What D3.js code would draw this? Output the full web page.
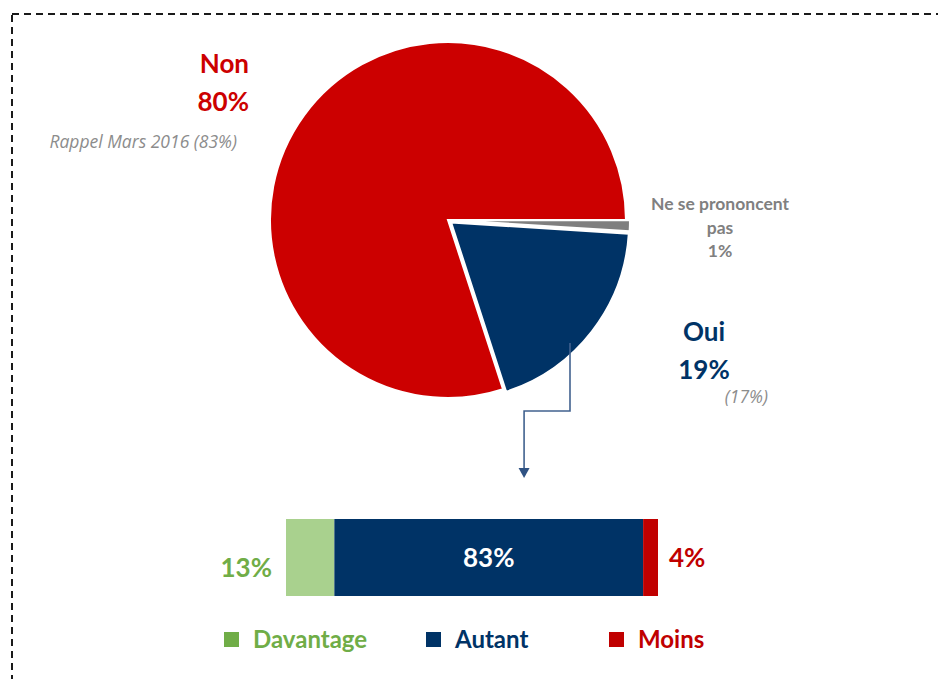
<!DOCTYPE html>
<html>
<head>
<meta charset="utf-8">
<script src="https://cdn.jsdelivr.net/npm/d3@7"></script>
<style>
  body { margin: 0; background: #fff; }
  svg { display: block; font-family: Lato, "Open Sans", sans-serif; }
</style>
</head>
<body>
<div id="chart"></div>
<script>
// pie: answer categories and their shares
const pieLabels = ["Ne se prononcent pas", "Oui", "Non"];
const pieValues = [1, 19, 80];
const pieColors = ["#7f7f7f", "#003366", "#cc0000"];
const pieRecall = [null, "(17%)", "Rappel Mars 2016 (83%)"];

// stacked bar for those who answered "Oui"
const barLabels = ["Davantage", "Autant", "Moins"];
const barValues = [13, 83, 4];
const barColors = ["#a9d18e", "#003366", "#c00000"];
const barTextColors = ["#70ad47", "#ffffff", "#c00000"];
const legendColors = ["#70ad47", "#003366", "#c00000"];

const width = 938, height = 679;

const svg = d3.select("#chart").append("svg")
    .attr("width", width)
    .attr("height", height);

// dashed frame, runs off the right and bottom edges
svg.append("rect")
    .attr("x", 12).attr("y", 14)
    .attr("width", 960).attr("height", 700)
    .attr("fill", "none")
    .attr("stroke", "#1a1a1a")
    .attr("stroke-width", 2)
    .attr("stroke-dasharray", "7,5");

// ---- pie ----
const cx = 448, cy = 220, radius = 178, explode = 4;

const pie = d3.pie()
    .sort(null)
    .startAngle(Math.PI / 2)
    .endAngle(Math.PI / 2 + 2 * Math.PI)
    .value(d => d);

const arcs = pie(pieValues);
const arc = d3.arc().innerRadius(0).outerRadius(radius);

const pieG = svg.append("g").attr("transform", `translate(${cx},${cy})`);

pieG.selectAll("path")
    .data(arcs)
    .enter().append("path")
    .attr("d", arc)
    .attr("fill", (d, i) => pieColors[i])
    .attr("stroke", "#fff")
    .attr("stroke-width", 2)
    .attr("transform", (d, i) => {
        if (i === 2) return null; // "Non" stays put
        let a = (d.startAngle + d.endAngle) / 2;
        return `translate(${Math.sin(a) * explode},${-Math.cos(a) * explode})`;
    });

// pie labels
const big = 26;
const recallFont = "'Open Sans', sans-serif";
// Non
svg.append("text").attr("x", 249).attr("y", 73)
    .attr("text-anchor", "end").attr("fill", pieColors[2])
    .attr("font-size", big).attr("font-weight", 700).text(pieLabels[2]);
svg.append("text").attr("x", 249).attr("y", 111)
    .attr("text-anchor", "end").attr("fill", pieColors[2])
    .attr("font-size", big).attr("font-weight", 700).text(pieValues[2] + "%");
svg.append("text").attr("x", 237).attr("y", 148)
    .attr("text-anchor", "end").attr("fill", "#8c8c8c")
    .attr("font-family", recallFont)
    .attr("font-size", 17.5).attr("font-style", "italic").text(pieRecall[2]);

// Ne se prononcent pas
const nspLines = ["Ne se prononcent", "pas", pieValues[0] + "%"];
svg.append("g").selectAll("text")
    .data(nspLines)
    .enter().append("text")
    .attr("x", 720)
    .attr("y", (d, i) => 210 + i * 23.5)
    .attr("text-anchor", "middle")
    .attr("fill", "#808080")
    .attr("font-size", 17.5)
    .attr("font-weight", 700)
    .text(d => d);

// Oui
svg.append("text").attr("x", 704).attr("y", 341)
    .attr("text-anchor", "middle").attr("fill", pieColors[1])
    .attr("font-size", big).attr("font-weight", 700).text(pieLabels[1]);
svg.append("text").attr("x", 704).attr("y", 379)
    .attr("text-anchor", "middle").attr("fill", pieColors[1])
    .attr("font-size", big).attr("font-weight", 700).text(pieValues[1] + "%");
svg.append("text").attr("x", 768).attr("y", 403)
    .attr("text-anchor", "end").attr("fill", "#8c8c8c")
    .attr("font-family", recallFont)
    .attr("font-size", 17.5).attr("font-style", "italic").text(pieRecall[1]);

// ---- stacked bar ----
const barTop = 519, barH = 77;
const x = d3.scaleLinear().domain([0, d3.sum(barValues)]).range([286, 658]);

let acc = 0;
const segs = barValues.map((v, i) => {
    let s = { label: barLabels[i], value: v, x0: acc, x1: acc + v, i };
    acc += v;
    return s;
});

svg.append("g").selectAll("rect")
    .data(segs)
    .enter().append("rect")
    .attr("x", d => x(d.x0))
    .attr("y", barTop)
    .attr("width", d => x(d.x1) - x(d.x0))
    .attr("height", barH)
    .attr("fill", d => barColors[d.i]);

// bar value labels: first outside left, middle inside, last outside right
svg.append("g").selectAll("text")
    .data(segs)
    .enter().append("text")
    .attr("x", d => d.i === 0 ? x(d.x0) - 14 : d.i === segs.length - 1 ? x(d.x1) + 11 : (x(d.x0) + x(d.x1)) / 2)
    .attr("y", d => d.i === 0 ? 577 : 567)
    .attr("text-anchor", d => d.i === 0 ? "end" : d.i === segs.length - 1 ? "start" : "middle")
    .attr("fill", d => barTextColors[d.i])
    .attr("font-size", big)
    .attr("font-weight", 700)
    .text(d => d.value + "%");

// connector arrow from "Oui" slice to the bar
const startX = cx + 122, startY = cy + 123;
const turnY = 411;
const endX = x(64);
const arrowTip = barTop - 41;
svg.append("path")
    .attr("d", `M${startX},${startY} V${turnY} H${endX} V${arrowTip - 9}`)
    .attr("fill", "none")
    .attr("stroke", "#41628f")
    .attr("stroke-width", 1.6);
svg.append("path")
    .attr("d", `M${endX - 5.5},${arrowTip - 10} L${endX + 5.5},${arrowTip - 10} L${endX},${arrowTip} Z`)
    .attr("fill", "#2f5283");

// ---- legend ----
const legendX = [224, 426, 609];
const legend = svg.append("g").selectAll("g")
    .data(barLabels)
    .enter().append("g")
    .attr("transform", (d, i) => `translate(${legendX[i]},632)`);

legend.append("rect")
    .attr("width", 15).attr("height", 15)
    .attr("fill", (d, i) => legendColors[i]);

legend.append("text")
    .attr("x", 29).attr("y", 16)
    .attr("fill", (d, i) => legendColors[i])
    .attr("font-size", 24)
    .attr("font-weight", 700)
    .text(d => d);
</script>
</body>
</html>
